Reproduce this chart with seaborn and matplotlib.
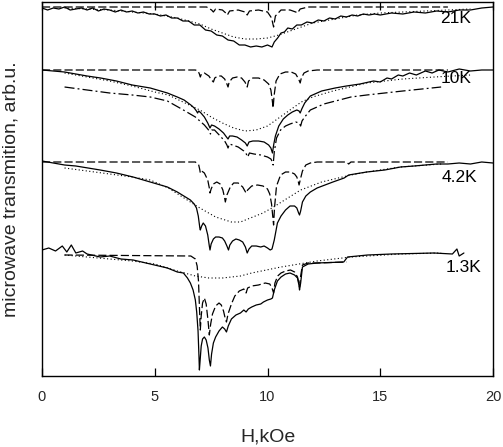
import numpy as np
import pandas as pd
import matplotlib
matplotlib.use("Agg")
import matplotlib.pyplot as plt
import seaborn as sns

# field, kOe  /  transmission, arb.u. (curves offset by temperature)

# ---- 21 K ----
h21_exp = [0.0, 0.25, 0.5, 0.75, 1.0, 1.25, 1.5, 1.75, 2.0, 2.25, 2.5, 2.75, 3.0, 3.25, 3.5, 3.75,
           4.0, 4.25, 4.5, 4.75, 5.0, 5.25, 5.5, 5.75, 6.0, 6.25, 6.5, 6.75, 7.0, 7.25, 7.5, 7.75,
           8.0, 8.25, 8.5, 8.75, 9.0, 9.25, 9.5, 9.75, 10.0, 10.2, 10.3, 10.45, 10.6, 10.75, 10.9,
           11.1, 11.3, 11.5, 11.75, 12.0, 12.25, 12.5, 12.75, 13.0, 13.25, 13.5, 13.75, 14.0, 14.25,
           14.5, 14.75, 15.0, 15.5, 16.0, 16.5, 17.0, 17.5, 18.0, 18.5, 19.0, 19.5, 20.0]
t21_exp = [368, 366, 368, 367, 369, 366, 367, 368, 366, 368, 365, 367, 366, 364, 366, 364,
           365, 363, 364, 362, 362, 360, 361, 358, 358, 355, 355, 351, 351, 346, 345, 341,
           340, 336, 335, 331, 331, 329, 330, 329, 331, 329, 334, 338, 343, 344, 348,
           347, 351, 351, 354, 353, 356, 355, 358, 357, 360, 359, 361, 360, 362,
           361, 362, 361, 363, 362, 364, 363, 365, 364, 366, 366, 368, 369]
h21_calc = [0.0, 7.3, 7.52, 7.6, 7.7, 8.0, 8.15, 8.22, 8.32, 8.7, 9.0, 9.1, 9.2, 9.6, 10.0, 10.18,
            10.27, 10.35, 10.6, 11.0, 11.25, 11.33, 11.45, 11.8, 18.0]
t21_calc = [369, 369, 366, 364, 367, 366, 363, 361, 365, 366, 364, 361, 365, 366, 364, 358,
            349, 360, 366, 366, 364, 363, 367, 369, 369]
h21_fit = [1.0, 3.0, 5.0, 6.0, 7.0, 7.5, 8.0, 8.5, 9.0, 9.5, 10.0, 10.5, 11.0, 11.5, 12.0,
           13.0, 14.0, 15.0, 16.0, 17.0, 18.0, 19.0]
t21_fit = [368, 366, 362, 358, 352, 347, 343, 339, 337, 337, 338, 341, 345, 349, 353,
           357, 361, 363, 364, 365, 366, 367]

# ---- 10 K ----
h10_exp = [0.0, 0.5, 1.0, 2.0, 2.6, 3.3, 4.0, 4.8, 5.56, 6.0, 6.3, 6.6, 6.75, 6.85, 6.9, 6.95,
           7.05, 7.2, 7.35, 7.45, 7.52, 7.65, 7.85, 8.05, 8.18, 8.25, 8.32, 8.45, 8.65, 8.85,
           9.02, 9.1, 9.18, 9.35, 9.6, 9.85, 10.05, 10.15, 10.22, 10.28, 10.35, 10.5, 10.7, 10.9,
           11.1, 11.3, 11.4, 11.45, 11.52, 11.65, 11.9, 12.4, 13.0, 13.5, 14.1, 14.7, 15.0,
           15.3, 15.5, 15.8, 16.0, 16.3, 16.6, 17.0, 17.3, 17.6, 18.0, 18.5, 19.0, 19.5, 20.0]
t10_exp = [306, 305, 304, 300, 298, 295, 291, 288, 283, 279, 276, 271, 268, 265, 263, 265,
           263, 259, 253, 248, 251, 250, 247, 243, 239, 237, 240, 240, 239, 236,
           233, 230, 234, 235, 235, 234, 231, 228, 223, 232, 240, 250, 257, 261,
           264, 266, 265, 263, 267, 273, 280, 285, 288, 290, 292, 295, 294,
           298, 297, 301, 300, 303, 301, 305, 303, 306, 304, 307, 305, 306, 306]
h10_calc = [0.0, 6.8, 6.92, 6.98, 7.02, 7.07, 7.2, 7.4, 7.52, 7.6, 7.66, 7.8, 7.95, 8.1, 8.2,
            8.25, 8.3, 8.45, 8.65, 8.85, 9.0, 9.1, 9.16, 9.35, 9.6, 9.85, 10.05, 10.15, 10.21,
            10.25, 10.29, 10.38, 10.55, 10.8, 11.05, 11.25, 11.38, 11.45, 11.5, 11.62, 11.8,
            12.2, 18.0]
t10_calc = [306, 306, 305, 302, 299, 302, 303, 300, 296, 294, 298, 300, 300, 297, 292,
            289, 294, 298, 299, 298, 294, 289, 295, 298, 298, 296, 292, 286, 276,
            268, 280, 295, 302, 304, 304, 302, 297, 293, 298, 303, 305,
            306, 306]
h10_fit = [1.0, 2.0, 3.0, 4.0, 5.0, 5.6, 7.0, 7.5, 8.0, 8.5, 9.0, 9.5, 10.0, 10.5, 11.0, 11.5,
           12.0, 12.9, 14.4, 16.0, 17.4, 19.0]
t10_fit = [303, 299, 295, 290, 284, 281, 266, 259, 253, 248, 245, 246, 250, 258, 266, 274,
           279, 285, 293, 297, 299, 301]
h10_mod = [1.0, 2.0, 3.0, 4.0, 4.8, 5.56, 6.27, 6.8, 7.0, 7.2, 7.35, 7.42, 7.47, 7.53, 7.65,
           7.9, 8.1, 8.2, 8.25, 8.31, 8.45, 8.7, 8.95, 9.06, 9.12, 9.2, 9.4, 9.7, 10.0, 10.15,
           10.22, 10.25, 10.3, 10.4, 10.58, 10.8, 11.0, 11.25, 11.4, 11.47, 11.53, 11.65, 11.9,
           12.5, 13.7, 14.4, 16.0, 17.7]
t10_mod = [289, 286, 283, 281, 279, 275, 266, 259, 255, 251, 247, 245, 242, 246, 246,
           240, 235, 231, 228, 232, 231, 229, 225, 222, 219, 223, 222, 221, 219, 217,
           214, 211, 224, 238, 246, 250, 252, 254, 253, 250, 255, 259, 266,
           272, 279, 281, 285, 289]

# ---- 4.2 K ----
h42_exp = [0.0, 0.5, 1.0, 1.5, 2.58, 3.3, 4.04, 4.8, 5.56, 6.0, 6.58, 6.75, 6.85, 6.93, 7.0,
           7.02, 7.08, 7.15, 7.25, 7.35, 7.42, 7.45, 7.5, 7.6, 7.7, 7.85, 8.0, 8.1, 8.2, 8.27,
           8.33, 8.45, 8.6, 8.75, 8.9, 9.02, 9.1, 9.18, 9.3, 9.5, 9.7, 9.85, 10.0, 10.12, 10.2,
           10.3, 10.44, 10.6, 10.8, 11.0, 11.2, 11.3, 11.38, 11.42, 11.47, 11.55, 11.7, 11.9,
           12.2, 12.9, 13.4, 13.6, 14.4, 15.2, 15.9, 16.5, 17.0, 17.5, 18.0, 18.5, 19.0, 19.5,
           20.0]
t42_exp = [215, 213, 211, 210, 206, 203, 199, 194, 189, 184, 176, 172, 168, 160, 148,
           146, 150, 153, 150, 141, 130, 126, 132, 137, 139, 139, 138, 135, 130, 126,
           131, 135, 137, 136, 134, 129, 123, 127, 130, 130, 129, 130, 128, 126, 127,
           136, 153, 160, 166, 170, 170, 168, 163, 161, 165, 174, 180, 184,
           188, 194, 198, 201, 204, 206, 209, 210, 211, 212, 212, 213, 212, 214,
           213]
h42_calc = [0.0, 6.8, 6.95, 7.0, 7.02, 7.08, 7.2, 7.35, 7.42, 7.45, 7.5, 7.6, 7.75, 7.9, 8.02,
            8.1, 8.13, 8.2, 8.35, 8.5, 8.7, 8.9, 9.0, 9.05, 9.12, 9.3, 9.56, 9.8, 10.0, 10.1,
            10.18, 10.24, 10.27, 10.31, 10.4, 10.58, 10.8, 11.02, 11.2, 11.3, 11.37, 11.4, 11.45,
            11.55, 11.7, 11.9, 12.2, 13.5, 13.6, 13.7, 18.0]
t42_calc = [214, 214, 211, 206, 203, 205, 203, 196, 188, 183, 187, 192, 194, 192, 186,
            178, 174, 181, 189, 193, 193, 189, 185, 183, 186, 190, 191, 190, 187, 182,
            172, 158, 151, 168, 190, 201, 204, 204, 202, 199, 194, 191, 196,
            205, 211, 213, 214, 214, 212, 214, 214]
h42_fit = [1.0, 2.0, 3.0, 4.0, 4.8, 5.6, 6.3, 7.0, 7.7, 8.4, 8.8, 9.24, 9.8, 10.27, 10.9, 11.47,
           12.4, 13.7, 14.4, 15.9, 17.7]
t42_fit = [208, 205, 202, 199, 196, 188, 178, 168, 159, 154, 154, 158, 163, 169, 178, 186,
           194, 201, 204, 209, 212]

# ---- 1.3 K ----
h13_exp = [0.0, 0.3, 0.6, 0.9, 1.1, 1.3, 1.5, 1.8, 2.0, 2.58, 3.0, 3.5, 4.04, 4.8, 5.56, 6.0,
           6.27, 6.45, 6.58, 6.7, 6.8, 6.86, 6.92, 6.96, 6.98, 7.01, 7.06, 7.12, 7.2, 7.28,
           7.36, 7.42, 7.47, 7.52, 7.6, 7.7, 7.85, 8.0, 8.1, 8.18, 8.26, 8.4, 8.6, 8.8, 8.95,
           9.05, 9.15, 9.3, 9.5, 9.7, 9.82, 10.0, 10.15, 10.22, 10.3, 10.44, 10.6, 10.8, 11.0,
           11.2, 11.33, 11.4, 11.42, 11.47, 11.55, 11.8, 12.2, 13.38, 13.55, 14.44, 15.5, 17.38,
           18.2, 18.4, 18.5, 18.71]
t13_exp = [126, 128, 125, 130, 124, 131, 123, 125, 122, 119, 120, 117, 116, 112, 108, 104,
           103, 98, 93, 86, 76, 64, 45, 20, 6, 15, 30, 37, 39, 36,
           28, 16, 10, 22, 33, 39, 45, 49, 47, 44, 50, 57, 61, 63, 66,
           64, 67, 69, 71, 72, 74, 76, 77, 78, 86, 95, 99, 102, 103,
           101, 98, 90, 86, 93, 109, 112, 113, 114, 119, 121, 122, 123,
           122, 127, 120, 123]
h13_calc = [1.0, 6.6, 6.8, 6.88, 6.94, 6.98, 7.02, 7.06, 7.12, 7.2, 7.28, 7.36, 7.42, 7.48, 7.56,
            7.7, 7.85, 7.95, 8.05, 8.12, 8.18, 8.25, 8.4, 8.55, 8.75, 8.95, 9.05, 9.12, 9.3, 9.6,
            9.9, 10.1, 10.2, 10.27, 10.33, 10.45, 10.6, 10.8, 11.02, 11.2, 11.33, 11.4, 11.42,
            11.47, 11.55, 11.8, 12.2, 13.5]
t13_calc = [121, 120, 117, 110, 95, 70, 46, 60, 73, 78, 72, 56, 41, 52, 62,
            70, 73, 71, 65, 58, 54, 62, 72, 80, 85, 87, 83, 88, 90, 91,
            93, 92, 88, 83, 93, 100, 103, 105, 106, 104, 99, 92, 89,
            100, 111, 113, 113, 114]
h13_fit = [1.0, 2.0, 3.0, 4.0, 5.0, 6.0, 6.8, 7.4, 8.0, 8.8, 9.3, 10.6, 12.2, 13.7, 15.9, 17.7]
t13_fit = [121, 119, 117, 115, 112, 105, 100, 98, 98, 100, 103, 109, 115, 119, 122, 123]

temp_labels = ["21K", "10K", "4.2K", "1.3K"]
label_h = [17.64, 17.69, 17.73, 17.91]
label_t = [358, 298, 199, 108]

x_ticks = [0, 5, 10, 15, 20]

sns.set_theme(style="white")
plt.rcParams["font.family"] = ["Liberation Sans", "DejaVu Sans"]

fig = plt.figure(figsize=(5.03, 4.47), dpi=100)
ax = fig.add_axes([42 / 503, 71 / 447, 451 / 503, 374 / 447])

solid = dict(color="black", linewidth=0.9)
dashed = dict(color="black", linewidth=0.9, linestyle=(0, (6.5, 2.5)))
dotted = dict(color="black", linewidth=0.8, linestyle=(0, (1, 2.2)))
dashdot = dict(color="black", linewidth=0.9, linestyle=(0, (8, 2.5, 1.5, 2.5)))

curves = [
    (h21_exp, t21_exp, solid), (h21_calc, t21_calc, dashed), (h21_fit, t21_fit, dotted),
    (h10_exp, t10_exp, solid), (h10_calc, t10_calc, dashed), (h10_fit, t10_fit, dotted),
    (h10_mod, t10_mod, dashdot),
    (h42_exp, t42_exp, solid), (h42_calc, t42_calc, dashed), (h42_fit, t42_fit, dotted),
    (h13_exp, t13_exp, solid), (h13_calc, t13_calc, dashed), (h13_fit, t13_fit, dotted),
]
for h, t, kw in curves:
    sns.lineplot(x=h, y=t, ax=ax, estimator=None, sort=False, **kw)

for lab, h, t in zip(temp_labels, label_h, label_t):
    ax.text(h, t, lab, fontsize=12.5, ha="left", va="center", color="black")

ax.set_xlim(0, 20)
ax.set_ylim(0, 374)
ax.set_xticks(x_ticks)
ax.set_xticklabels([str(v) for v in x_ticks])
ax.set_yticks([])
ax.tick_params(axis="x", direction="in", top=True, bottom=True, length=6, width=0.9,
               labelsize=10.5, pad=10, color="black")
for sp in ax.spines.values():
    sp.set_color("black")
    sp.set_linewidth(1.0)
    sp.set_visible(True)

ax.set_xlabel("H,kOe", fontsize=14, labelpad=18)
ax.set_ylabel("microwave transmition, arb.u.", fontsize=14, labelpad=16)

fig.savefig("out.png", dpi=100)
